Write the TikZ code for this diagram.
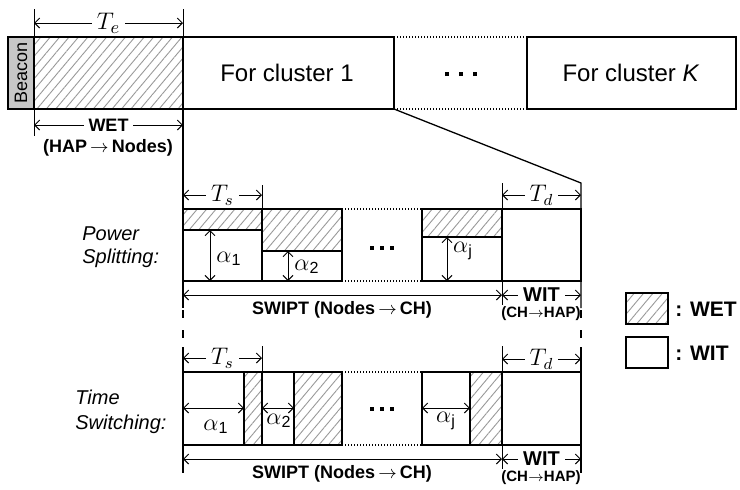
\documentclass[tikz,border=0pt]{standalone}
\usepackage{fontspec}
\setmainfont{Liberation Sans}
\usetikzlibrary{patterns.meta, arrows.meta}
\newcommand{\gapdots}[2]{\rule{#1}{#1}\hspace{#2}\rule{#1}{#1}\hspace{#2}\rule{#1}{#1}}
\newcommand{\alp}[1]{$\alpha$\textsubscript{#1}}
\tikzset{
  slot/.style = {draw=black, line width=0.65pt},
  energy/.style = {
    slot, pattern={Lines[angle=50, distance=3.6pt, line width=0.45pt]},
    pattern color=black!40
  },
  beaconbox/.style = {slot, fill=black!22},
  dim/.style = {
    line width=0.5pt,
    {Straight Barb[length=2.5pt, width=5pt]}-{Straight Barb[length=2.5pt, width=5pt]}
  },
  tick/.style = {line width=0.5pt},
  gapline/.style = {line width=0.6pt, dash pattern=on 0.6pt off 0.9pt},
  brk/.style = {line width=0.6pt, dash pattern=on 4pt off 6pt},
  dimlabel/.style = {fill=white, inner xsep=2.5pt, inner ysep=0pt},
  slottext/.style = {font=\fontsize{12}{14}\selectfont},
  tlabel/.style = {font=\fontsize{11.5}{13}\selectfont},
  alabel/.style = {font=\fontsize{11.5}{13}\selectfont},
  phase/.style = {font=\bfseries\fontsize{9}{11}\selectfont},
  subphase/.style = {font=\bfseries\fontsize{7.5}{9}\selectfont},
  scheme/.style = {anchor=west, align=left, inner sep=0pt},
  legend/.style = {anchor=west, inner sep=0pt, font=\bfseries\fontsize{10.5}{12}\selectfont}
}

\begin{document}
\begin{tikzpicture}[x=0.5pt, y=-0.5pt]

    \useasboundingbox (0,0) rectangle (740,489);

    % ------------------------------------------------------------ Frame
    \draw [beaconbox] (8,37) rectangle (34,109);
    \node [rotate=90, font=\fontsize{9}{10}\selectfont] (beacon) at (21,73) {Beacon};
    \draw [energy] (34,37) rectangle (183,109);
    \draw [slot] (183,37) rectangle (394,109);
    \node [slottext] (cl1) at (287,73) {For cluster 1};
    \draw [gapline] (394,37) -- (527,37) (394,109) -- (527,109);
    \node [inner sep=0pt] (topdots) at (461,74) {\gapdots{2pt}{5pt}};
    \draw [slot] (527,37) rectangle (736,109);
    \node [slottext] (clK) at (631,73) {For cluster \textit{K}};

    % -------- T_e and WET
    \draw [tick] (34,9) -- (34,37) (183,9) -- (183,37);
    \draw [dim] (34,23) -- node [dimlabel, font=\fontsize{13}{14}\selectfont] (te) {$T_e$} (183,23);
    \draw [tick] (34,109) -- (34,136);
    \draw [dim] (34,125) -- node [dimlabel, phase] (wet) {WET} (183,125);
    \node [phase] (wetdir) at (108,148) {(HAP$\,\rightarrow\,$Nodes)};

    % -------- zoom lines
    \draw [slot] (183,109) -- (183,308);
    \draw [brk] (183,310) -- (183,345);
    \draw [slot] (183,347) -- (183,473);
    \draw [slot] (394,109) -- (581,183) -- (581,308);
    \draw [brk] (581,310) -- (581,345);
    \draw [slot] (581,347) -- (581,473);

    % ------------------------------------------------- Power splitting
    \node [scheme, font=\itshape\fontsize{10}{11.5}\selectfont] (ps) at (82,247) {Power\\Splitting:};

    \draw [tick] (262,185) -- (262,209);
    \draw [tick] (502,183) -- (502,305);
    \draw [dim] (183,195) -- node [dimlabel, tlabel] (tsps) {$T_s$} (262,195);
    \draw [dim] (502,195) -- node [dimlabel, tlabel] (tdps) {$T_d$} (581,195);

    \draw [energy] (183,209) rectangle (262,230);
    \draw [slot]   (183,230) rectangle (262,281);
    \draw [energy] (262,209) rectangle (342,251);
    \draw [slot]   (262,251) rectangle (342,281);
    \draw [gapline] (342,209) -- (422,209) (342,281) -- (422,281);
    \node [inner sep=0pt] (psdots) at (382,248) {\gapdots{1.6pt}{3.4pt}};
    \draw [energy] (422,209) rectangle (502,237);
    \draw [slot]   (422,237) rectangle (502,281);
    \draw [slot]   (502,209) rectangle (581,281);

    \draw [dim] (210,230) -- (210,281);
    \node [alabel] (a1ps) at (229,259) {\alp{1}};
    \draw [dim] (288,251) -- (288,281);
    \node [alabel] (a2ps) at (307,267) {\alp{2}};
    \draw [dim] (447,237) -- (447,281);
    \node [alabel] (ajps) at (463,251) {\alp{j}};

    \draw [dim] (183,295) -- (502,295);
    \node [phase] (swps) at (342,310) {SWIPT (Nodes$\,\rightarrow\,$CH)};
    \draw [dim] (502,295) -- node [dimlabel, phase, font=\bfseries\fontsize{10}{12}\selectfont] (witps) {WIT} (581,295);
    \node [subphase] (witpsdir) at (541,314) {(CH$\rightarrow$HAP)};

    % -------------------------------------------------- Time switching
    \node [scheme, font=\itshape\fontsize{10}{12.5}\selectfont] (tsw) at (75,412) {Time\\Switching:};

    \draw [tick] (262,346) -- (262,372);
    \draw [tick] (502,346) -- (502,469);
    \draw [dim] (183,358) -- node [dimlabel, tlabel] (tsts) {$T_s$} (262,358);
    \draw [dim] (502,359) -- node [dimlabel, tlabel] (tdts) {$T_d$} (581,359);

    \draw [slot]   (183,372) rectangle (244,445);
    \draw [energy] (244,372) rectangle (262,445);
    \draw [slot]   (262,372) rectangle (294,445);
    \draw [energy] (294,372) rectangle (342,445);
    \draw [gapline] (342,372) -- (422,372) (342,445) -- (422,445);
    \node [inner sep=0pt] (tsdots) at (382,409) {\gapdots{1.6pt}{3.4pt}};
    \draw [slot]   (422,372) rectangle (470,445);
    \draw [energy] (470,372) rectangle (502,445);
    \draw [slot]   (502,372) rectangle (581,445);

    \draw [dim] (183,408) -- (244,408);
    \node [alabel] (a1ts) at (216,427) {\alp{1}};
    \draw [dim] (262,408) -- (294,408);
    \node [alabel] (a2ts) at (279,421) {\alp{2}};
    \draw [dim] (422,408) -- (470,408);
    \node [alabel] (ajts) at (446,421) {\alp{j}};

    \draw [dim] (183,459) -- (502,459);
    \node [phase] (swts) at (342,474) {SWIPT (Nodes$\,\rightarrow\,$CH)};
    \draw [dim] (502,459) -- node [dimlabel, phase, font=\bfseries\fontsize{10}{12}\selectfont] (witts) {WIT} (581,459);
    \node [subphase] (wittsdir) at (541,478) {(CH$\rightarrow$HAP)};

    % ----------------------------------------------------------- Legend
    \draw [energy] (626,293) rectangle (668,324);
    \node [legend] (legwet) at (675,309) {: WET};
    \draw [slot] (626,337) rectangle (668,368);
    \node [legend] (legwit) at (675,353) {: WIT};

\end{tikzpicture}
\end{document}
